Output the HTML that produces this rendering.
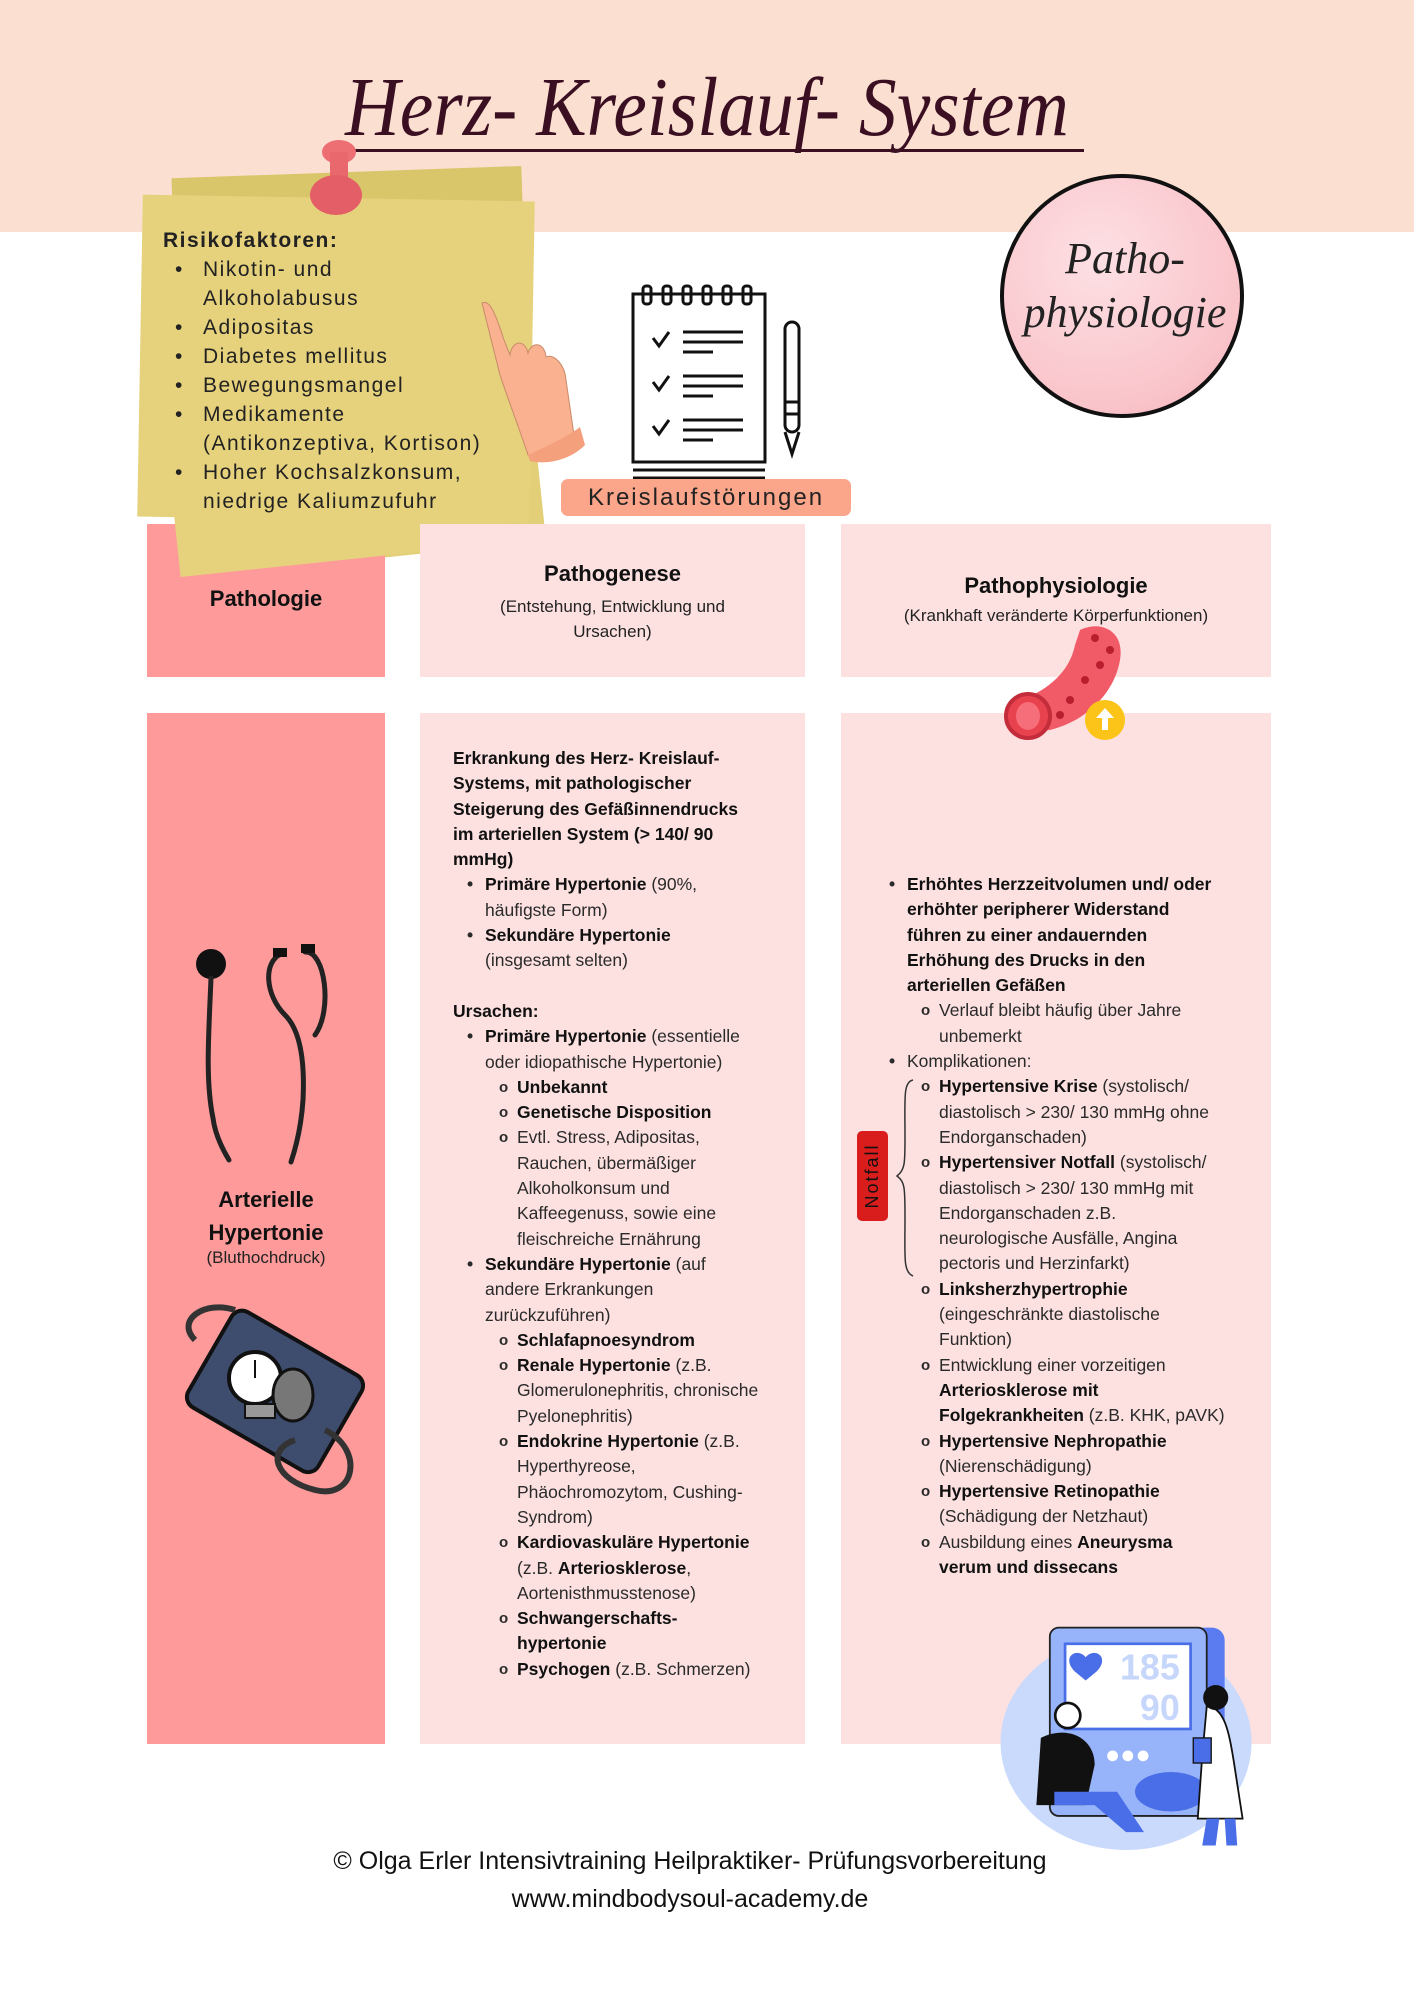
<!DOCTYPE html>
<html><head><meta charset="utf-8">
<style>
*{margin:0;padding:0;box-sizing:border-box}
body{width:1414px;height:2000px;position:relative;background:#fff;font-family:"Liberation Sans",sans-serif;color:#222;overflow:hidden}
.abs{position:absolute}
.blk{position:absolute;font-size:17.5px;line-height:25.3px;white-space:nowrap;color:#2a2a2a}
.blk div{position:relative;height:25.3px}
b{font-weight:700;color:#111}
.m1::before{content:"•";position:absolute;left:-18px;font-weight:700}
.m2::before{content:"o";position:absolute;left:-18px;font-weight:700;font-size:15px}
</style></head><body>
<!-- peach band -->
<div class="abs" style="left:0;top:0;width:1414px;height:232px;background:#fbe0d2"></div>
<!-- title -->
<div class="abs" style="left:207px;top:58px;width:1000px;text-align:center;white-space:nowrap;font-family:'Liberation Serif',serif;font-style:italic;font-size:84px;line-height:100px;color:#3b0f22;transform:scaleX(0.9)">Herz- Kreislauf- System</div>
<div class="abs" style="left:334px;top:149px;width:750px;height:3px;background:#3b0f22"></div>

<!-- sticky note -->
<div class="abs" style="left:178px;top:172px;width:350px;height:380px;background:#d9c66a;transform:rotate(-2deg)"></div>
<div class="abs" style="left:175px;top:330px;width:360px;height:230px;background:#e2cf78;transform:rotate(-6deg)"></div>
<div class="abs" style="left:140px;top:198px;width:392px;height:322px;background:#e6d27c;transform:rotate(1deg)"></div>
<div class="abs" style="left:147px;top:524px;width:238px;height:153px;background:#fe9a9a"></div>
<div class="abs" style="left:175px;top:470px;width:330px;height:90px;background:#e6d27c;transform:rotate(-6deg)"></div>
<!-- pin -->
<div class="abs" style="left:322px;top:140px;width:34px;height:24px;border-radius:50%;background:#ee6f73"></div>
<div class="abs" style="left:330px;top:152px;width:18px;height:28px;background:#e9686d"></div>
<div class="abs" style="left:310px;top:175px;width:52px;height:40px;border-radius:50%;background:#e35e66"></div>
<div class="abs" style="left:163px;top:226px;font-size:21px;line-height:29px;letter-spacing:1.5px;color:#222;white-space:nowrap">
<div style="font-weight:700">Risikofaktoren:</div>
<div style="padding-left:40px;position:relative"><span style="position:absolute;left:12px">•</span>Nikotin- und<br>Alkoholabusus</div>
<div style="padding-left:40px;position:relative"><span style="position:absolute;left:12px">•</span>Adipositas</div>
<div style="padding-left:40px;position:relative"><span style="position:absolute;left:12px">•</span>Diabetes mellitus</div>
<div style="padding-left:40px;position:relative"><span style="position:absolute;left:12px">•</span>Bewegungsmangel</div>
<div style="padding-left:40px;position:relative"><span style="position:absolute;left:12px">•</span>Medikamente<br>(Antikonzeptiva, Kortison)</div>
<div style="padding-left:40px;position:relative"><span style="position:absolute;left:12px">•</span>Hoher Kochsalzkonsum,<br>niedrige Kaliumzufuhr</div>
</div>
<!-- hand -->
<svg class="abs" style="left:470px;top:295px" width="140" height="170" viewBox="0 0 140 170">
<path d="M12 8 C20 4 26 20 34 45 L40 60 C42 45 55 44 58 58 C62 45 75 48 76 62 C84 58 95 70 96 85 L104 140 C90 160 70 165 58 160 C48 130 40 110 30 80 Z" fill="#f9b18f" stroke="#c98a6a" stroke-width="1"/>
<path d="M58 160 C80 150 100 140 110 132 L115 150 C100 165 78 170 60 166Z" fill="#f5a07c"/>
</svg>
<!-- notepad -->
<svg class="abs" style="left:625px;top:282px" width="190" height="200" viewBox="0 0 190 200">
<rect x="8" y="12" width="132" height="168" fill="#fff" stroke="#111" stroke-width="3"/>
<g stroke="#111" stroke-width="3" fill="none">
<rect x="18" y="4" width="8" height="18" rx="3"/><rect x="38" y="4" width="8" height="18" rx="3"/><rect x="58" y="4" width="8" height="18" rx="3"/><rect x="78" y="4" width="8" height="18" rx="3"/><rect x="98" y="4" width="8" height="18" rx="3"/><rect x="118" y="4" width="8" height="18" rx="3"/>
<path d="M28 56 l6 8 l10 -14"/><path d="M28 100 l6 8 l10 -14"/><path d="M28 144 l6 8 l10 -14"/>
<path d="M58 50h60M58 60h60M58 70h30M58 94h60M58 104h60M58 114h30M58 138h60M58 148h60M58 158h30"/>
<path d="M8 188h132M8 196h132"/>
<rect x="160" y="40" width="14" height="110" rx="7"/><path d="M160 150 l7 22 l7 -22"/><path d="M160 120h14M160 132h14"/>
</g></svg>
<!-- button -->
<div class="abs" style="left:561px;top:479px;width:290px;height:37px;background:#fba58a;border-radius:7px;font-size:24px;line-height:37px;text-align:center;letter-spacing:2px;color:#222">Kreislaufstörungen</div>
<!-- circle -->
<div class="abs" style="left:1000px;top:174px;width:244px;height:244px;border-radius:50%;border:4px solid #111;background:radial-gradient(circle at 40% 35%,#fde0e4,#f9c4ca 70%,#f2aeb6)"></div>
<div class="abs" style="left:1020px;top:232px;width:210px;text-align:center;font-family:'Liberation Serif',serif;font-style:italic;font-size:44px;line-height:54px;color:#222">Patho-<br>physiologie</div>

<!-- header row -->
<div class="abs" style="left:420px;top:524px;width:385px;height:153px;background:#fde1e1"></div>
<div class="abs" style="left:841px;top:524px;width:430px;height:153px;background:#fde1e1"></div>
<div class="abs" style="left:147px;top:586px;width:238px;text-align:center;font-weight:700;font-size:22px;color:#111">Pathologie</div>
<div class="abs" style="left:420px;top:561px;width:385px;text-align:center;font-weight:700;font-size:22px;color:#111">Pathogenese</div>
<div class="abs" style="left:420px;top:594px;width:385px;text-align:center;font-size:17px;line-height:25px">(Entstehung, Entwicklung und<br>Ursachen)</div>
<div class="abs" style="left:841px;top:573px;width:430px;text-align:center;font-weight:700;font-size:22px;color:#111">Pathophysiologie</div>
<div class="abs" style="left:841px;top:606px;width:430px;text-align:center;font-size:17px">(Krankhaft veränderte Körperfunktionen)</div>

<!-- body row -->
<div class="abs" style="left:147px;top:713px;width:238px;height:1031px;background:#fe9a9a"></div>
<div class="abs" style="left:420px;top:713px;width:385px;height:1031px;background:#fde1e1"></div>
<div class="abs" style="left:841px;top:713px;width:430px;height:1031px;background:#fde1e1"></div>

<!-- vessel -->
<svg class="abs" style="left:1000px;top:620px" width="135" height="125" viewBox="0 0 135 125">
<path d="M80 10 C100 0 125 10 120 40 C115 70 90 100 50 110 L30 112 L20 80 C50 70 70 50 75 25Z" fill="#f15b68"/>
<ellipse cx="28" cy="96" rx="22" ry="22" fill="#e9424f" stroke="#c32c3a" stroke-width="4"/>
<ellipse cx="28" cy="96" rx="12" ry="14" fill="#f56e79"/>
<g fill="#b81e2e"><circle cx="95" cy="18" r="4"/><circle cx="110" cy="30" r="4"/><circle cx="100" cy="45" r="4"/><circle cx="85" cy="60" r="4"/><circle cx="70" cy="80" r="4"/><circle cx="60" cy="95" r="4"/></g>
<circle cx="105" cy="100" r="20" fill="#fcc419"/>
<path d="M105 88 l-9 10 h6 v12 h6 v-12 h6z" fill="#fff"/>
</svg>

<!-- stethoscope -->
<svg class="abs" style="left:185px;top:940px" width="160" height="225" viewBox="0 0 160 225">
<circle cx="26" cy="24" r="15" fill="#111"/>
<g fill="none" stroke="#222" stroke-width="5" stroke-linecap="round">
<path d="M26 38 C24 90 20 140 28 178 C30 195 38 210 44 220"/>
<path d="M96 14 C78 22 80 55 100 75 C115 90 120 120 118 160 C116 190 110 210 106 222"/>
<path d="M120 12 C140 10 148 70 130 95"/>
</g>
<rect x="88" y="8" width="14" height="9" fill="#111"/><rect x="116" y="4" width="14" height="9" fill="#111"/>
</svg>
<div class="abs" style="left:147px;top:1183px;width:238px;text-align:center;font-weight:700;font-size:22px;line-height:33px;color:#111">Arterielle<br>Hypertonie</div>
<div class="abs" style="left:147px;top:1248px;width:238px;text-align:center;font-size:17px">(Bluthochdruck)</div>
<!-- bp cuff -->
<svg class="abs" style="left:175px;top:1300px" width="190" height="200" viewBox="0 0 190 200">
<g transform="rotate(30 95 100)">
<rect x="20" y="35" width="150" height="110" rx="12" fill="#3e4d6e" stroke="#111" stroke-width="4"/>
</g>
<g fill="none" stroke="#333" stroke-width="6"><path d="M150 130 C190 150 180 200 140 190 C100 180 90 150 120 140"/><path d="M20 40 C0 20 30 0 60 10"/></g>
<circle cx="80" cy="78" r="26" fill="#fff" stroke="#111" stroke-width="4"/>
<path d="M80 78 L80 60" stroke="#111" stroke-width="2"/>
<ellipse cx="118" cy="95" rx="20" ry="26" fill="#777" stroke="#111" stroke-width="3"/>
<rect x="70" y="104" width="30" height="14" fill="#999" stroke="#111" stroke-width="2"/>
</svg>

<!-- col2 text -->
<div class="blk" style="left:453px;top:746px">
<div><b>Erkrankung des Herz- Kreislauf-</b></div>
<div><b>Systems, mit pathologischer</b></div>
<div><b>Steigerung des Gefäßinnendrucks</b></div>
<div><b>im arteriellen System (&gt; 140/ 90</b></div>
<div><b>mmHg)</b></div>
<div class="m1" style="left:32px"><b>Primäre Hypertonie</b> (90%,</div>
<div style="left:32px">häufigste Form)</div>
<div class="m1" style="left:32px"><b>Sekundäre Hypertonie</b></div>
<div style="left:32px">(insgesamt selten)</div>
<div></div>
<div><b>Ursachen:</b></div>
<div class="m1" style="left:32px"><b>Primäre Hypertonie</b> (essentielle</div>
<div style="left:32px">oder idiopathische Hypertonie)</div>
<div class="m2" style="left:64px"><b>Unbekannt</b></div>
<div class="m2" style="left:64px"><b>Genetische Disposition</b></div>
<div class="m2" style="left:64px">Evtl. Stress, Adipositas,</div>
<div style="left:64px">Rauchen, übermäßiger</div>
<div style="left:64px">Alkoholkonsum und</div>
<div style="left:64px">Kaffeegenuss, sowie eine</div>
<div style="left:64px">fleischreiche Ernährung</div>
<div class="m1" style="left:32px"><b>Sekundäre Hypertonie</b> (auf</div>
<div style="left:32px">andere Erkrankungen</div>
<div style="left:32px">zurückzuführen)</div>
<div class="m2" style="left:64px"><b>Schlafapnoesyndrom</b></div>
<div class="m2" style="left:64px"><b>Renale Hypertonie</b> (z.B.</div>
<div style="left:64px">Glomerulonephritis, chronische</div>
<div style="left:64px">Pyelonephritis)</div>
<div class="m2" style="left:64px"><b>Endokrine Hypertonie</b> (z.B.</div>
<div style="left:64px">Hyperthyreose,</div>
<div style="left:64px">Phäochromozytom, Cushing-</div>
<div style="left:64px">Syndrom)</div>
<div class="m2" style="left:64px"><b>Kardiovaskuläre Hypertonie</b></div>
<div style="left:64px">(z.B. <b>Arteriosklerose</b>,</div>
<div style="left:64px">Aortenisthmusstenose)</div>
<div class="m2" style="left:64px"><b>Schwangerschafts-</b></div>
<div style="left:64px"><b>hypertonie</b></div>
<div class="m2" style="left:64px"><b>Psychogen</b> (z.B. Schmerzen)</div>
</div>

<!-- col3 text -->
<div class="blk" style="left:907px;top:872px">
<div class="m1"><b>Erhöhtes Herzzeitvolumen und/ oder</b></div>
<div><b>erhöhter peripherer Widerstand</b></div>
<div><b>führen zu einer andauernden</b></div>
<div><b>Erhöhung des Drucks in den</b></div>
<div><b>arteriellen Gefäßen</b></div>
<div class="m2" style="left:32px">Verlauf bleibt häufig über Jahre</div>
<div style="left:32px">unbemerkt</div>
<div class="m1">Komplikationen:</div>
<div class="m2" style="left:32px"><b>Hypertensive Krise</b> (systolisch/</div>
<div style="left:32px">diastolisch &gt; 230/ 130 mmHg ohne</div>
<div style="left:32px">Endorganschaden)</div>
<div class="m2" style="left:32px"><b>Hypertensiver Notfall</b> (systolisch/</div>
<div style="left:32px">diastolisch &gt; 230/ 130 mmHg mit</div>
<div style="left:32px">Endorganschaden z.B.</div>
<div style="left:32px">neurologische Ausfälle, Angina</div>
<div style="left:32px">pectoris und Herzinfarkt)</div>
<div class="m2" style="left:32px"><b>Linksherzhypertrophie</b></div>
<div style="left:32px">(eingeschränkte diastolische</div>
<div style="left:32px">Funktion)</div>
<div class="m2" style="left:32px">Entwicklung einer vorzeitigen</div>
<div style="left:32px"><b>Arteriosklerose mit</b></div>
<div style="left:32px"><b>Folgekrankheiten</b> (z.B. KHK, pAVK)</div>
<div class="m2" style="left:32px"><b>Hypertensive Nephropathie</b></div>
<div style="left:32px">(Nierenschädigung)</div>
<div class="m2" style="left:32px"><b>Hypertensive Retinopathie</b></div>
<div style="left:32px">(Schädigung der Netzhaut)</div>
<div class="m2" style="left:32px">Ausbildung eines <b>Aneurysma</b></div>
<div style="left:32px"><b>verum und dissecans</b></div>
</div>
<!-- Notfall -->
<div class="abs" style="left:857px;top:1131px;width:31px;height:90px;background:#d91c1c;border-radius:5px"></div>
<div class="abs" style="left:827px;top:1161px;width:90px;height:30px;transform:rotate(-90deg);text-align:center;font-size:18px;line-height:30px;letter-spacing:2px;color:#111">Notfall</div>
<svg class="abs" style="left:895px;top:1078px" width="24" height="200" viewBox="0 0 24 200">
<path d="M18 2 C8 4 10 20 10 60 C10 85 10 92 2 98 C10 104 10 110 10 140 C10 180 8 194 18 198" fill="none" stroke="#333" stroke-width="1.5"/>
</svg>

<!-- doctor illustration -->
<svg class="abs" style="left:1000px;top:1590px" width="270" height="260" viewBox="0 0 300 290">
<ellipse cx="140" cy="170" rx="140" ry="120" fill="#c9dafc"/>
<rect x="55" y="42" width="195" height="210" rx="14" fill="#5b7cf0"/>
<rect x="55" y="42" width="175" height="210" rx="10" fill="#97b4fa" stroke="#222" stroke-width="2"/>
<rect x="72" y="60" width="140" height="95" fill="#fff" stroke="#4a6ee8" stroke-width="3"/>
<path d="M95 75 c-10 -12 -28 0 -12 16 l12 10 l12 -10 c16 -16 -2 -28 -12 -16z" fill="#4a6ee8"/>
<text x="200" y="100" text-anchor="end" font-family="Liberation Sans" font-weight="700" font-size="40" fill="#c7d6fb">185</text>
<text x="200" y="145" text-anchor="end" font-family="Liberation Sans" font-weight="700" font-size="40" fill="#c7d6fb">90</text>
<circle cx="125" cy="185" r="6" fill="#fff"/><circle cx="142" cy="185" r="6" fill="#fff"/><circle cx="159" cy="185" r="6" fill="#fff"/>
<ellipse cx="190" cy="225" rx="40" ry="22" fill="#4a6ee8"/>
<path d="M45 165 c30 -15 60 0 60 30 l-10 45 h-55 z" fill="#111"/>
<circle cx="75" cy="140" r="14" fill="#fff" stroke="#111" stroke-width="3"/>
<path d="M60 225 h70 l30 45 h-20 l-35 -30 h-45z" fill="#4a6ee8"/>
<path d="M230 130 c20 0 25 30 30 60 l10 65 h-50 l5 -70z" fill="#fff" stroke="#111" stroke-width="2"/>
<circle cx="240" cy="120" r="14" fill="#111"/>
<rect x="215" y="165" width="20" height="28" fill="#4a6ee8" stroke="#111" stroke-width="1.5"/>
<path d="M230 255 l-5 30 h15 l4 -30z M250 255 l2 30 h12 l-2 -30z" fill="#4a6ee8"/>
</svg>

<!-- footer -->
<div class="abs" style="left:0;top:1842px;width:1380px;text-align:center;font-size:25px;line-height:38px;color:#111">© Olga Erler Intensivtraining Heilpraktiker- Prüfungsvorbereitung<br>www.mindbodysoul-academy.de</div>
</body></html>
